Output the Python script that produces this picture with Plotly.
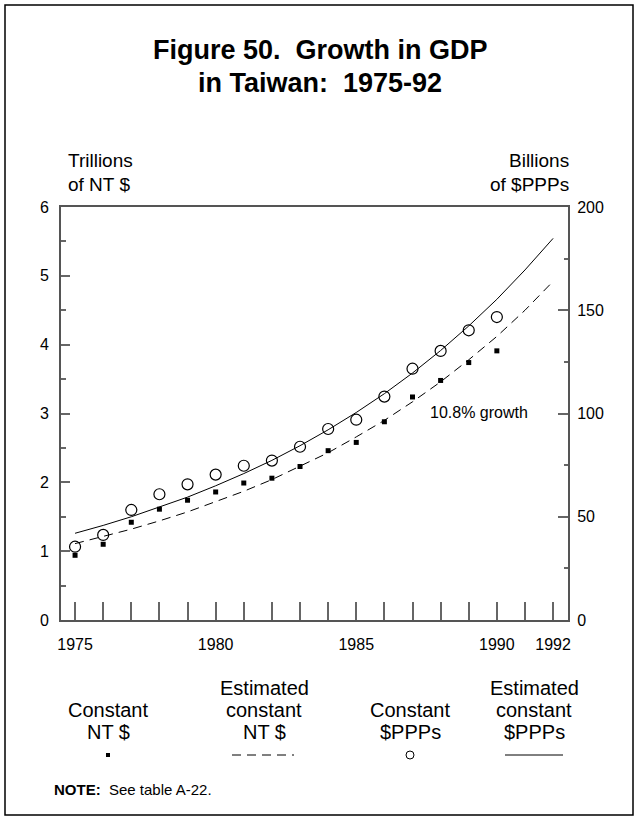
import plotly.graph_objects as go

# ---------------- data ----------------
years_obs = [1975, 1976, 1977, 1978, 1979, 1980, 1981, 1982, 1983, 1984,
             1985, 1986, 1987, 1988, 1989, 1990]
nt_constant = [0.94, 1.10, 1.42, 1.61, 1.74, 1.86, 1.99, 2.06, 2.23, 2.46,
               2.58, 2.88, 3.24, 3.48, 3.74, 3.91]
ppp_constant = [35.5, 41.2, 53.3, 60.9, 65.7, 70.4, 74.7, 77.2, 83.9, 92.5,
                97.0, 108.2, 121.7, 130.3, 140.3, 146.7]

years_est = [1975, 1976, 1977, 1978, 1979, 1980, 1981, 1982, 1983, 1984,
             1985, 1986, 1987, 1988, 1989, 1990, 1991, 1992]
nt_estimated = [1.11, 1.21, 1.32, 1.44, 1.57, 1.72, 1.87, 2.04, 2.23, 2.43,
                2.66, 2.90, 3.17, 3.46, 3.78, 4.12, 4.50, 4.92]
ppp_estimated = [42.0, 45.8, 50.0, 54.6, 59.5, 65.0, 70.9, 77.3, 84.4, 92.1,
                 100.5, 109.6, 119.6, 130.5, 142.4, 155.3, 169.5, 184.8]

x_tick_years = list(range(1975, 1993))
x_tick_labels = ["1975", "", "", "", "", "1980", "", "", "", "", "1985",
                 "", "", "", "", "1990", "", "1992"]
left_ticks = [0, 1, 2, 3, 4, 5, 6]
right_ticks = [0, 50, 100, 150, 200]

FONT = "Arial, Liberation Sans, sans-serif"
W, H = 638, 819
PL, PR, PT, PB = 61, 568, 207, 620


def px(x):
    return (x - PL) / (PR - PL)


def py(y):
    return (PB - y) / (PB - PT)


fig = go.Figure()

fig.add_trace(go.Scatter(x=years_est, y=nt_estimated, mode="lines",
                         line=dict(color="black", width=1, dash="9px,6px"),
                         showlegend=False, hoverinfo="skip"))
fig.add_trace(go.Scatter(x=years_est, y=ppp_estimated, mode="lines", yaxis="y2",
                         line=dict(color="black", width=1),
                         showlegend=False, hoverinfo="skip"))
fig.add_trace(go.Scatter(x=years_obs, y=nt_constant, mode="markers",
                         marker=dict(symbol="square", size=5, color="black"),
                         showlegend=False))
fig.add_trace(go.Scatter(x=years_obs, y=ppp_constant, mode="markers", yaxis="y2",
                         marker=dict(symbol="circle-open", size=11, color="black",
                                     line=dict(width=1.2)),
                         showlegend=False))

axis_col = "#555555"
tick_col = "#666666"

fig.update_layout(
    width=W, height=H,
    margin=dict(l=PL, r=W - PR, t=PT, b=H - PB),
    paper_bgcolor="white", plot_bgcolor="white",
    font=dict(family=FONT, color="black", size=16),
    xaxis=dict(range=[1974.5, 1992.53], tickvals=x_tick_years, ticktext=x_tick_labels,
               ticks="inside", ticklen=18, tickwidth=1.5, tickcolor=tick_col,
               showline=True, linecolor=axis_col, linewidth=2, mirror=True,
               ticklabelstandoff=9,
               showgrid=False, zeroline=False, tickfont=dict(size=16)),
    yaxis=dict(range=[0, 6], tickvals=left_ticks, ticks="inside", ticklen=9,
               tickwidth=1.5, tickcolor=tick_col,
               minor=dict(dtick=0.5, tick0=0, ticks="inside", ticklen=5,
                          tickwidth=1.5, tickcolor=tick_col, showgrid=False),
               showline=True, linecolor=axis_col, linewidth=2,
               ticklabelstandoff=7,
               showgrid=False, zeroline=False, tickfont=dict(size=16)),
    yaxis2=dict(range=[0, 200], tickvals=right_ticks, overlaying="y", side="right",
                ticks="inside", ticklen=10, tickwidth=1.5, tickcolor=tick_col,
                minor=dict(dtick=25, tick0=0, ticks="inside", ticklen=4,
                           tickwidth=1.5, tickcolor=tick_col, showgrid=False),
                showline=True, linecolor=axis_col, linewidth=2,
                ticklabelstandoff=4,
                showgrid=False, zeroline=False, tickfont=dict(size=16)),
)

ann = []


def text(x, y, t, size=17, xanchor="center"):
    ann.append(dict(x=px(x), y=py(y), xref="paper", yref="paper", text=t,
                    showarrow=False, xanchor=xanchor, yanchor="middle",
                    font=dict(size=size, family=FONT, color="black")))


text(320, 50, "<b>Figure 50.  Growth in GDP</b>", size=27)
text(320, 83, "<b>in Taiwan:  1975-92</b>", size=27)
text(66, 161, "Trillions", size=19, xanchor="left")
text(66, 184, "of NT $", size=19, xanchor="left")
text(571, 161, "Billions", size=19, xanchor="right")
text(571, 184, "of $PPPs", size=19, xanchor="right")
text(479, 412, "10.8% growth", size=16)

# legend
text(108, 710, "Constant", size=20)
text(108, 732, "NT $", size=20)
text(264, 688, "Estimated", size=20)
text(264, 710, "constant", size=20)
text(264, 732, "NT $", size=20)
text(410, 710, "Constant", size=20)
text(410, 732, "$PPPs", size=20)
text(534, 688, "Estimated", size=20)
text(534, 710, "constant", size=20)
text(534, 732, "$PPPs", size=20)
text(52, 789, "<b>NOTE:</b>  See table A-22.", size=15, xanchor="left")

shapes = [
    dict(type="rect", xref="paper", yref="paper", x0=px(5), x1=px(633),
         y0=py(5), y1=py(815), line=dict(color="black", width=1.5)),
    dict(type="rect", xref="paper", yref="paper", x0=px(106), x1=px(110),
         y0=py(753), y1=py(757), fillcolor="black", line=dict(width=0)),
    dict(type="line", xref="paper", yref="paper", x0=px(232), x1=px(294),
         y0=py(755), y1=py(755), line=dict(color="black", width=1, dash="9px,6px")),
    dict(type="circle", xref="paper", yref="paper", x0=px(406), x1=px(414),
         y0=py(751), y1=py(759), line=dict(color="black", width=1)),
    dict(type="line", xref="paper", yref="paper", x0=px(505), x1=px(563),
         y0=py(755), y1=py(755), line=dict(color="black", width=1)),
]

fig.update_layout(annotations=ann, shapes=shapes)
fig.write_html("out.html")
